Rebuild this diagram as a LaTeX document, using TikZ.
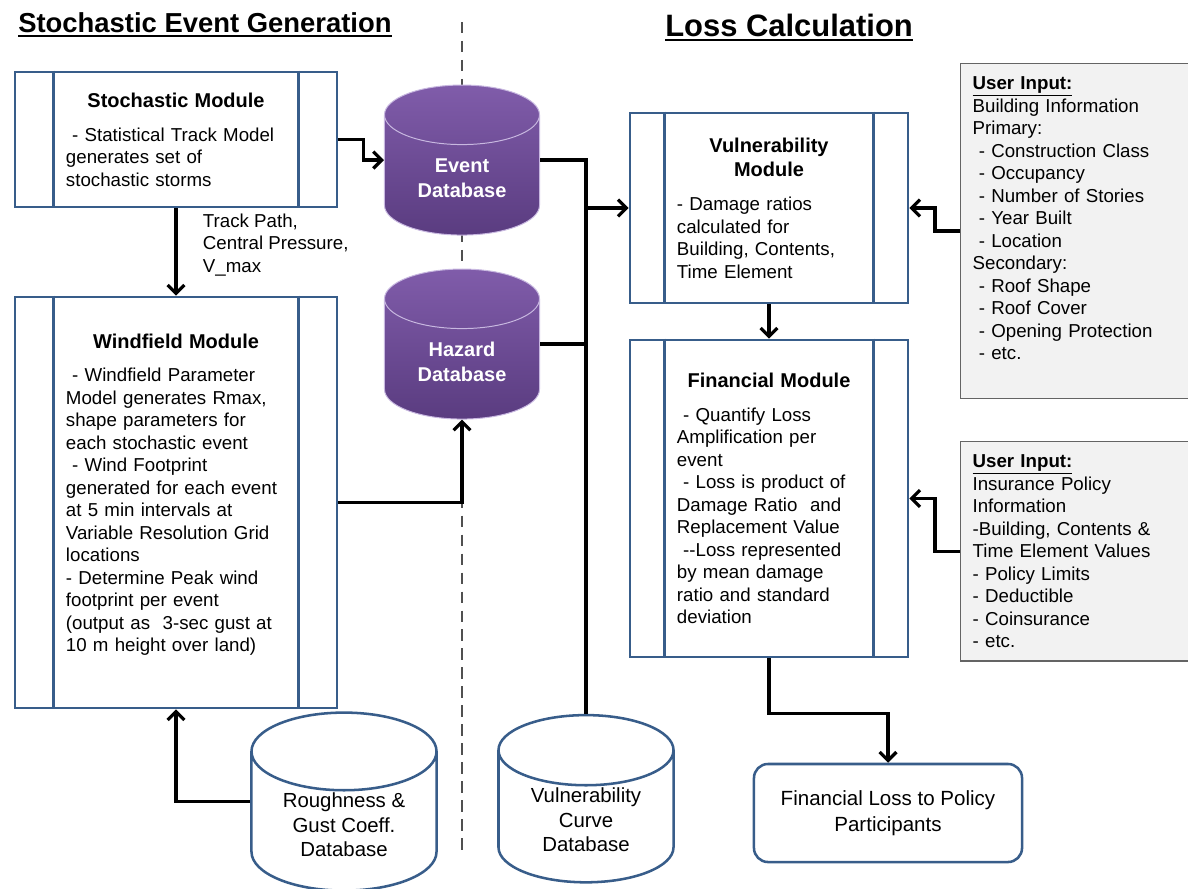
\documentclass[tikz,border=0pt]{standalone}
\usepackage{fontspec}
\setmainfont{Liberation Sans}
\usetikzlibrary{shapes.geometric,arrows.meta}
\setlength{\parindent}{0pt}

\definecolor{boxblue}{RGB}{56,93,138}
\definecolor{dbtop}{RGB}{128,92,170}
\definecolor{dbbottom}{RGB}{90,60,128}
\definecolor{dbrim}{RGB}{200,184,224}
\definecolor{inputfill}{RGB}{242,242,242}
\definecolor{inputdraw}{RGB}{100,100,100}
\definecolor{divgrey}{RGB}{80,80,80}

\newcommand{\bodyfont}{\fontsize{13.3}{16}\selectfont}
\newcommand{\modtitle}[1]{{\centering\fontsize{14.2}{17.5}\selectfont\bfseries #1\par}\vspace{8pt}}

\tikzset{
  module/.style={draw=boxblue, line width=1.8pt, fill=white, align=left, font=\bodyfont},
  modline/.style={boxblue, line width=1.8pt},
  dbpurple/.style={cylinder, shape border rotate=90, aspect=0.65, inner sep=1pt,
    minimum width=3.875cm, minimum height=3.75cm,
    top color=dbtop, bottom color=dbbottom, draw=dbrim, line width=0.7pt,
    text=white, align=center, font=\fontsize{14.2}{18}\selectfont\bfseries},
  dbwhite/.style={cylinder, shape border rotate=90, aspect=0.62, inner sep=1pt,
    draw=boxblue, line width=1.8pt, fill=white,
    align=center, font=\fontsize{14.5}{17.5}\selectfont},
  userinput/.style={draw=inputdraw, line width=0.9pt, fill=inputfill, anchor=north west,
    text width=5.3cm, inner xsep=0.3cm, inner ysep=0.33cm, align=left, font=\bodyfont},
  flow/.style={line width=2.3pt, -{Straight Barb[length=6pt,width=12pt]}},
  feed/.style={line width=2.3pt},
  divider/.style={divgrey, line width=1.2pt, dash pattern=on 8pt off 5.5pt},
}

\begin{document}
\begin{tikzpicture}[x=0.025cm, y=-0.025cm]
  \useasboundingbox (0,0) rectangle (1188,888);

  % Section titles
  \node[anchor=base west, inner sep=0, font=\fontsize{19.5}{22}\selectfont\bfseries] (gentitle) at (18,32) {Stochastic Event Generation};
  \draw[line width=1.5pt] ([yshift=-3pt]gentitle.base west) -- ([yshift=-3pt]gentitle.base east);
  \node[anchor=base west, inner sep=0, font=\fontsize{22}{24}\selectfont\bfseries] (losstitle) at (665,36) {Loss Calculation};
  \draw[line width=1.5pt] ([yshift=-3pt]losstitle.base west) -- ([yshift=-3pt]losstitle.base east);

  % Divider
  \draw[divider] (462,22) -- (462,850);

  % Modules
  \node[module, text width=5.5cm, inner xsep=1.275cm, minimum height=3.375cm] (stoch) at (176,139.5)
    {\modtitle{Stochastic Module}\ - Statistical Track Model\\generates set of\\stochastic storms};
  \node[module, text width=5.5cm, inner xsep=1.275cm, minimum height=10.275cm] (wind) at (176,502.5)
    {\modtitle{Windfield Module}\ - Windfield Parameter\\Model generates Rmax,\\shape parameters for\\each stochastic event\\\ - Wind Footprint\\generated for each event\\at 5 min intervals at\\Variable Resolution Grid\\locations\\- Determine Peak wind\\footprint per event\\(output as\ \ 3-sec gust at\\10 m height over land)\\[-2pt]\mbox{}};
  \node[module, text width=4.6cm, inner xsep=1.175cm, minimum height=4.75cm] (vuln) at (769,208)
    {\modtitle{Vulnerability\\Module}- Damage ratios\\calculated for\\Building, Contents,\\Time Element};
  \node[module, text width=4.6cm, inner xsep=1.175cm, minimum height=7.925cm] (fin) at (769,498.5)
    {\modtitle{Financial Module}\ - Quantify Loss\\Amplification per\\event\\\ - Loss is product of\\Damage Ratio\ \ and\\Replacement Value\\\ -{}-Loss represented\\by mean damage\\ratio and standard\\deviation};
  \foreach \m/\d in {stoch/1cm, wind/1cm, vuln/0.9cm, fin/0.9cm}{
    \draw[modline] ([xshift=\d]\m.north west) -- ([xshift=\d]\m.south west);
    \draw[modline] ([xshift=-\d]\m.north east) -- ([xshift=-\d]\m.south east);
  }

  \node[anchor=west, align=left, font=\bodyfont] (trackinfo) at (198,245) {Track Path,\\Central Pressure,\\V\_max};

  % Databases
  \node[dbpurple] (eventdb) at (462,178) {Event\\Database};
  \node[dbpurple] (hazarddb) at (462,362) {Hazard\\Database};
  \node[dbwhite, minimum width=4.625cm, minimum height=4.225cm] (roughdb) at (344,825) {Roughness \&\\Gust Coeff.\\Database};
  \node[dbwhite, minimum width=4.375cm, minimum height=4.1cm] (curvedb) at (586,820) {Vulnerability\\Curve\\Database};

  % Output
  \node[draw=boxblue, line width=1.8pt, rounded corners=0.35cm, fill=white, minimum width=6.7cm, minimum height=2.45cm,
    align=center, font=\fontsize{14.6}{18.5}\selectfont] (lossbox) at (888,813) {Financial Loss to Policy\\Participants};

  % User inputs
  \node[userinput] (bldinput) at (960,63) {\underline{\textbf{User Input:}}\\Building Information\\Primary:\\\ - Construction Class\\\ - Occupancy\\\ - Number of Stories\\\ - Year Built\\\ - Location\\Secondary:\\\ - Roof Shape\\\ - Roof Cover\\\ - Opening Protection\\\ - etc.\\[2pt]\mbox{}};
  \node[userinput] (polinput) at (960,441) {\underline{\textbf{User Input:}}\\Insurance Policy\\Information\\-Building, Contents \&\\Time Element Values\\- Policy Limits\\- Deductible\\- Coinsurance\\- etc.};

  % Connectors
  \draw[flow] (stoch.east) -- ++(25,0) |- (eventdb.shape center -| eventdb.west);
  \draw[flow] (stoch.south) -- (wind.north);
  \draw[flow] (wind.east) -| (hazarddb.south);
  \draw[feed] (eventdb.shape center -| eventdb.east) -| (curvedb.north);
  \draw[feed] (hazarddb.shape center -| hazarddb.east) -- (hazarddb.shape center -| curvedb.north);
  \draw[flow] (vuln.west -| curvedb.north) -- (vuln.west);
  \draw[flow] (vuln.south) -- (fin.north);
  \draw[flow] (fin.south) -- ++(0,55) -| (lossbox.north);
  \draw[flow] (bldinput.west) -- ++(-25,0) |- (vuln.east);
  \draw[flow] (polinput.west) -- ++(-25,0) |- (fin.east);
  \draw[flow] (roughdb.shape center -| roughdb.west) -| (wind.south);
\end{tikzpicture}
\end{document}
